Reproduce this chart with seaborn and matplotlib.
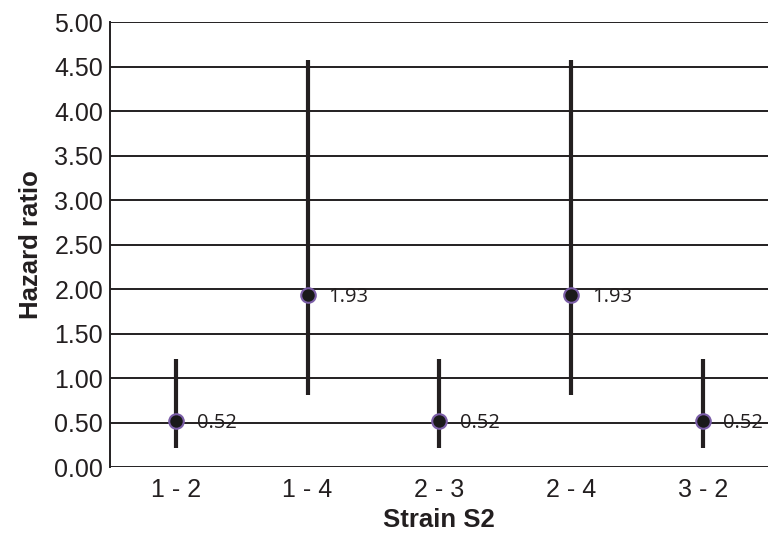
import pandas as pd
import seaborn as sns
import matplotlib.pyplot as plt

strains = ['1 - 2', '1 - 4', '2 - 3', '2 - 4', '3 - 2']
hazard = [0.52, 1.93, 0.52, 1.93, 0.52]
lower = [0.22, 0.81, 0.22, 0.81, 0.22]
upper = [1.22, 4.58, 1.22, 4.58, 1.22]

df = pd.DataFrame({'strain': strains, 'hr': hazard, 'lo': lower, 'hi': upper})

sns.set_style('white')
plt.rcParams['font.family'] = ['Liberation Sans', 'DejaVu Sans']

fig = plt.figure(figsize=(7.7, 5.4), dpi=100)
ax = fig.add_axes([0.143, 0.135, 0.855, 0.824])

# horizontal grid lines
for v in [0.5 * i for i in range(11)]:
    ax.axhline(v, color='#231f20', lw=1.4, zorder=1)

x = range(len(df))
ax.vlines(x, df['lo'], df['hi'], color='#231f20', lw=3, zorder=2)
sns.scatterplot(data=df, x='strain', y='hr', ax=ax, s=110, color='#1a1a1a',
                edgecolor='#7b5ea7', linewidth=1.5, zorder=3)

for i, row in df.iterrows():
    ax.annotate(f"{row['hr']:.2f}", (i, row['hr']), xytext=(15, -1.5), textcoords='offset points',
                va='center', ha='left', fontsize=14.5, family='Open Sans', color='#231f20')

ax.set_xlim(-0.5, len(df) - 0.5)
ax.set_ylim(0, 5)
ax.set_yticks([0.5 * i for i in range(11)])
ax.set_yticklabels([f'{0.5 * i:.2f}' for i in range(11)])
ax.tick_params(axis='both', length=0, labelsize=18, colors='#231f20', pad=5)
ax.tick_params(axis='x', pad=8)

sns.despine(ax=ax, top=True, right=True, bottom=True)
ax.spines['left'].set_color('#231f20')
ax.spines['left'].set_linewidth(1.4)

ax.set_xlabel('Strain S2', fontsize=18.5, fontweight='bold', color='#231f20', labelpad=4)
ax.set_ylabel('Hazard ratio', fontsize=18.5, fontweight='bold', color='#231f20', labelpad=8)

fig.savefig('out.png', dpi=100)
